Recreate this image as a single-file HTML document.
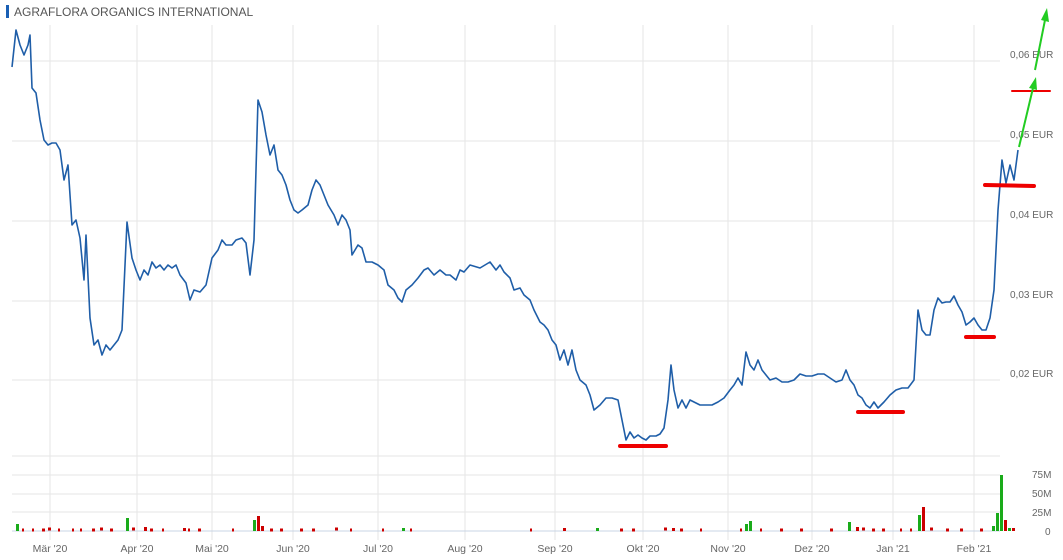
<!DOCTYPE html>
<html><head><meta charset="utf-8"><style>
body{margin:0;background:#fff;}
svg{display:block;font-family:"Liberation Sans",sans-serif;}
</style></head><body>
<svg width="1063" height="560" viewBox="0 0 1063 560">
<rect x="6" y="5" width="3" height="13" fill="#1a5fb4"/>
<text x="14" y="16" font-size="12" fill="#555">AGRAFLORA ORGANICS INTERNATIONAL</text>
<g stroke="#e6e6e6" stroke-width="1">
<line x1="12" y1="61" x2="1000" y2="61"/><line x1="12" y1="141" x2="1000" y2="141"/>
<line x1="12" y1="221" x2="1000" y2="221"/><line x1="12" y1="301" x2="1000" y2="301"/>
<line x1="12" y1="380" x2="1000" y2="380"/>
<line x1="12" y1="456" x2="1000" y2="456"/><line x1="12" y1="475" x2="1000" y2="475"/>
<line x1="12" y1="494" x2="1000" y2="494"/><line x1="12" y1="512" x2="1000" y2="512"/>
<line x1="50" y1="25" x2="50" y2="540"/><line x1="137" y1="25" x2="137" y2="540"/>
<line x1="212" y1="25" x2="212" y2="540"/><line x1="293" y1="25" x2="293" y2="540"/>
<line x1="378" y1="25" x2="378" y2="540"/><line x1="465" y1="25" x2="465" y2="540"/>
<line x1="555" y1="25" x2="555" y2="540"/><line x1="643" y1="25" x2="643" y2="540"/>
<line x1="728" y1="25" x2="728" y2="540"/><line x1="812" y1="25" x2="812" y2="540"/>
<line x1="893" y1="25" x2="893" y2="540"/><line x1="974" y1="25" x2="974" y2="540"/>
</g>
<line x1="12" y1="531" x2="1000" y2="531" stroke="#c8d4e4"/>
<g font-size="10" fill="#666">
<text x="1010" y="58">0,06 EUR</text><text x="1010" y="138">0,05 EUR</text>
<text x="1010" y="218">0,04 EUR</text><text x="1010" y="298">0,03 EUR</text>
<text x="1010" y="377">0,02 EUR</text>
<text x="1032" y="478">75M</text><text x="1032" y="497">50M</text>
<text x="1032" y="516">25M</text><text x="1045" y="535">0</text>
</g>
<g font-size="10.5" fill="#666" text-anchor="middle">
<text x="50" y="552">Mär '20</text><text x="137" y="552">Apr '20</text>
<text x="212" y="552">Mai '20</text><text x="293" y="552">Jun '20</text>
<text x="378" y="552">Jul '20</text><text x="465" y="552">Aug '20</text>
<text x="555" y="552">Sep '20</text><text x="643" y="552">Okt '20</text>
<text x="728" y="552">Nov '20</text><text x="812" y="552">Dez '20</text>
<text x="893" y="552">Jan '21</text><text x="974" y="552">Feb '21</text>
</g>
<g>
<rect x="16" y="524" width="3" height="7" fill="#1aab1a"/>
<rect x="126" y="518" width="3" height="13" fill="#1aab1a"/>
<rect x="144" y="527" width="3" height="4" fill="#c00"/>
<rect x="183" y="528" width="3" height="3" fill="#c00"/>
<rect x="253" y="520" width="3" height="11" fill="#1aab1a"/>
<rect x="257" y="516" width="3" height="15" fill="#c00"/>
<rect x="261" y="526" width="3" height="5" fill="#c00"/>
<rect x="402" y="528" width="3" height="3" fill="#1aab1a"/>
<rect x="563" y="528" width="3" height="3" fill="#c00"/>
<rect x="596" y="528" width="3" height="3" fill="#1aab1a"/>
<rect x="672" y="528" width="3" height="3" fill="#c00"/>
<rect x="745" y="524" width="3" height="7" fill="#1aab1a"/>
<rect x="749" y="521" width="3" height="10" fill="#1aab1a"/>
<rect x="848" y="522" width="3" height="9" fill="#1aab1a"/>
<rect x="856" y="527" width="3" height="4" fill="#c00"/>
<rect x="918" y="515" width="3" height="16" fill="#1aab1a"/>
<rect x="922" y="507" width="3" height="24" fill="#c00"/>
<rect x="992" y="526" width="3" height="5" fill="#1aab1a"/>
<rect x="996" y="513" width="3" height="18" fill="#1aab1a"/>
<rect x="1000" y="475" width="3" height="56" fill="#1aab1a"/>
<rect x="1004" y="520" width="3" height="11" fill="#c00"/>
<rect x="1008" y="528" width="3" height="3" fill="#1aab1a"/>
<rect x="1012" y="528" width="3" height="3" fill="#c00"/>
<path d="M22 530h2M32 530h2M42 530h3M48 529h3M58 530h2M72 530h2M80 530h2M92 530h3M100 529h3M110 530h3M132 529h3M150 530h3M162 530h2M188 530h2M198 530h3M232 530h2M270 530h3M280 530h3M300 530h3M312 530h3M335 529h3M350 530h2M382 530h2M410 530h2M530 530h2M620 530h3M632 530h3M664 529h3M680 530h3M700 530h2M740 530h2M760 530h2M780 530h3M800 530h3M830 530h3M862 529h3M872 530h3M882 530h3M900 530h2M910 530h2M930 529h3M946 530h3M960 530h3M980 530h3" stroke="#c00" stroke-width="3"/>
</g>
<polyline fill="none" stroke="#1f5ea8" stroke-width="1.6" stroke-linejoin="round" points="12,67 16,30 20,45 24,55 28,45 30,35 32,88 36,93 40,120 44,140 48,145 52,143 56,143 60,150 64,180 68,165 72,225 76,220 80,238 84,280 86,235 90,318 94,345 98,340 102,355 106,345 110,350 114,345 118,340 122,330 127,222 132,258 136,270 140,280 144,270 148,275 152,262 156,268 160,265 164,270 168,265 172,268 176,265 180,275 186,283 190,300 194,290 200,292 206,285 212,258 218,250 222,240 226,245 232,245 236,240 242,238 246,243 250,275 254,240 258,100 262,112 266,135 270,155 274,145 278,170 282,175 286,185 290,200 294,210 298,213 302,210 308,205 312,190 316,180 320,185 324,195 328,205 334,215 338,225 342,215 346,220 350,230 352,255 358,245 362,248 366,262 372,262 378,265 384,270 388,285 394,290 398,298 402,302 406,290 412,285 418,278 424,270 428,268 434,275 440,270 446,275 450,275 456,280 460,270 464,272 470,265 480,268 490,262 496,270 500,265 504,272 510,278 514,290 520,288 524,295 530,300 534,310 540,322 544,325 548,330 552,340 556,345 560,360 564,350 568,365 572,350 576,370 580,380 586,385 590,395 594,410 600,405 606,398 612,398 618,400 622,420 626,440 630,432 634,438 638,435 642,438 646,440 650,436 656,436 660,434 664,428 668,400 671,365 674,390 678,408 682,400 686,408 690,400 694,402 700,405 706,405 712,405 718,402 724,398 730,390 734,385 738,378 742,385 746,352 750,365 754,370 758,360 762,370 766,375 770,380 776,378 782,382 788,382 794,380 800,374 806,376 812,376 818,374 824,374 830,378 836,382 842,380 846,370 850,380 854,385 858,395 862,398 866,405 870,408 874,402 878,408 884,402 890,395 896,390 902,388 908,388 914,380 918,310 922,330 926,335 930,335 934,310 938,298 942,303 946,302 950,302 954,296 958,305 962,312 966,325 970,322 974,318 978,325 982,330 986,330 990,318 994,290 998,210 1002,160 1006,183 1010,165 1014,180 1018,150"/>
<g stroke="#e00" stroke-linecap="round">
<line x1="620" y1="446" x2="666" y2="446" stroke-width="4"/>
<line x1="858" y1="412" x2="903" y2="412" stroke-width="4"/>
<line x1="966" y1="337" x2="994" y2="337" stroke-width="4"/>
<line x1="985" y1="185" x2="1034" y2="186" stroke-width="4"/>
<line x1="1012" y1="91" x2="1050" y2="91" stroke-width="2"/>
</g>
<g stroke="#2c2" stroke-width="2" fill="#2c2">
<line x1="1019" y1="147" x2="1033" y2="88"/>
<polygon points="1029,88 1036,77 1037,90" stroke="none"/>
<line x1="1035" y1="70" x2="1045" y2="20"/>
<polygon points="1041,20 1047,8 1049,22" stroke="none"/>
</g>
</svg>
</body></html>
